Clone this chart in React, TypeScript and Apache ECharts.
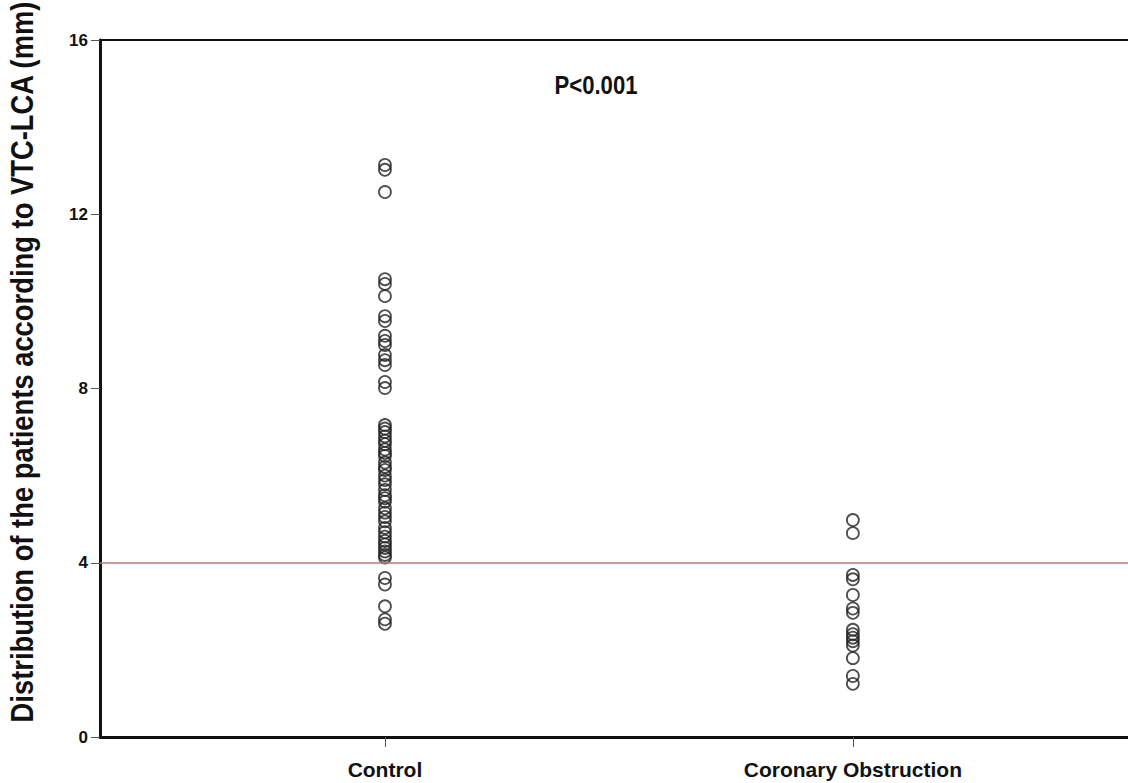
import React, { useEffect, useRef } from "react";
import * as echarts from "echarts";

const categories = ["Control", "Coronary Obstruction"];
const yTicks = [0, 4, 8, 12, 16];
const controlValues = [
  13.13, 13.02, 12.51, 10.51, 10.4, 10.12, 9.66, 9.55, 9.21, 9.09, 9.0, 8.77, 8.65, 8.54, 8.15, 8.01,
  7.16, 7.08, 7.0, 6.9, 6.8, 6.72, 6.6, 6.52, 6.45, 6.3, 6.2, 6.13, 6.0, 5.9, 5.8, 5.67, 5.55, 5.48,
  5.4, 5.25, 5.15, 5.05, 4.95, 4.8, 4.7, 4.6, 4.5, 4.42, 4.34, 4.26, 4.18, 4.12, 3.65, 3.5, 3.0, 2.7,
  2.6,
];
const obstructionValues = [4.98, 4.68, 3.72, 3.62, 3.26, 2.95, 2.85, 2.46, 2.36, 2.28, 2.2, 2.1, 1.81, 1.4, 1.22];
const cutoff = 4;
const pLabel = "P<0.001";
const yTitle = "Distribution of the patients according to VTC-LCA (mm)";

export default function App() {
  const ref = useRef<HTMLDivElement>(null);
  useEffect(() => {
    document.body.style.margin = "0";
    const chart = echarts.init(ref.current!, null, { renderer: "svg" });
    const font = "'Liberation Sans', Arial, sans-serif";
    chart.setOption({
      animation: false,
      backgroundColor: "#ffffff",
      grid: { left: 100, right: 0, top: 40, bottom: 46 },
      xAxis: [
        {
          type: "value",
          min: 0.391,
          max: 2.588,
          splitLine: { show: false },
          axisLine: { lineStyle: { color: "#111", width: 3 } },
          axisTick: { show: true, customValues: [1, 2], length: 10, lineStyle: { color: "#555", width: 1 } },
          axisLabel: {
            customValues: [1, 2],
            formatter: (v: number) => categories[Math.round(v) - 1] ?? "",
            color: "#111",
            fontFamily: font,
            fontWeight: "bold",
            fontSize: 21,
            margin: 22,
          },
        },
        {
          type: "value",
          position: "top",
          min: 0.391,
          max: 2.588,
          splitLine: { show: false },
          axisLine: { show: true, lineStyle: { color: "#111", width: 2 } },
          axisTick: { show: false },
          axisLabel: { show: false },
        },
      ],
      yAxis: {
        type: "value",
        min: 0,
        max: 16,
        interval: 4,
        splitLine: { show: false },
        axisLine: { show: true, lineStyle: { color: "#111", width: 3 } },
        axisTick: { show: true, length: 9, lineStyle: { color: "#555", width: 1 } },
        axisLabel: {
          color: "#111",
          fontFamily: font,
          fontWeight: "bold",
          fontSize: 17,
          margin: 12,
          formatter: (v: number) => (yTicks.includes(v) ? String(v) : ""),
        },
      },
      graphic: [
        {
          type: "text",
          x: 22,
          y: 362,
          rotation: Math.PI / 2,
          scaleX: 0.855,
          style: {
            text: yTitle,
            fill: "#111",
            font: `bold 32px ${font}`,
            align: "center",
            verticalAlign: "middle",
          },
        },
        {
          type: "text",
          x: 596,
          y: 85,
          scaleX: 0.85,
          style: {
            text: pLabel,
            fill: "#111",
            font: `bold 26px ${font}`,
            align: "center",
            verticalAlign: "middle",
          },
        },
      ],
      series: [
        {
          type: "scatter",
          symbol: "circle",
          symbolSize: 12,
          itemStyle: { color: "rgba(255,255,255,0)", borderColor: "#222", borderWidth: 1.8 },
          data: controlValues.map((v) => [1, v]),
          markLine: {
            silent: true,
            symbol: ["none", "none"],
            label: { show: false },
            lineStyle: { color: "#b97a7a", width: 1.5, type: "solid" },
            data: [{ yAxis: cutoff }],
          },
        },
        {
          type: "scatter",
          symbol: "circle",
          symbolSize: 12,
          itemStyle: { color: "rgba(255,255,255,0)", borderColor: "#222", borderWidth: 1.8 },
          data: obstructionValues.map((v) => [2, v]),
        },
      ],
    });
    return () => chart.dispose();
  }, []);
  return <div ref={ref} style={{ width: 1128, height: 783 }} />;
}
